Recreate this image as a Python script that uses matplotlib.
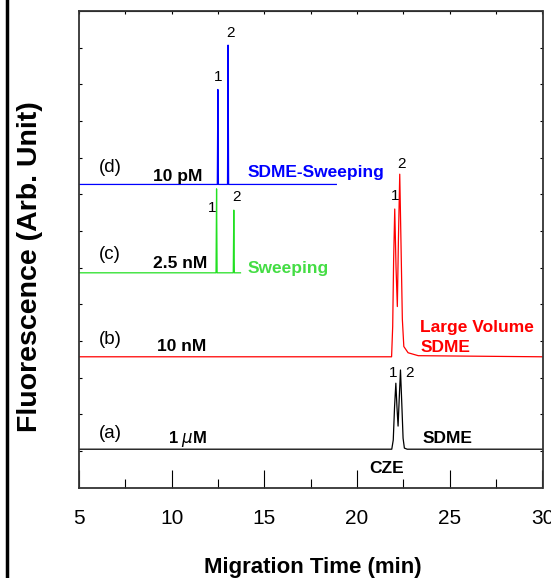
import numpy as np
import matplotlib
matplotlib.use("Agg")
import matplotlib.pyplot as plt
from matplotlib.lines import Line2D

plt.rcParams["font.family"] = ["Liberation Sans", "DejaVu Sans"]

# ── TRACE DATA ──────────────────────────────────────────────
# (a) CZE / SDME, 1 uM
t_a = [5.0, 21.87, 21.95, 22.02, 22.09, 22.15, 22.21, 22.27, 22.34, 22.41, 22.48, 22.55, 22.70, 30.0]
s_a = [1.05, 1.05, 1.30, 2.20, 2.85, 2.20, 1.68, 2.40, 3.21, 2.30, 1.35, 1.08, 1.05, 1.05]

# (b) Large volume SDME, 10 nM
t_b = [5.0, 21.86, 21.92, 21.97, 22.03, 22.10, 22.17, 22.23, 22.30, 22.37, 22.44, 22.52, 22.75, 23.30, 30.0]
s_b = [3.57, 3.57, 4.40, 6.20, 7.60, 6.00, 4.94, 6.80, 8.55, 6.60, 4.60, 3.85, 3.68, 3.60, 3.57]

# (c) Sweeping, 2.5 nM
t_c = [5.0, 12.39, 12.42, 12.45, 13.32, 13.35, 13.38, 13.71]
s_c = [5.86, 5.86, 8.15, 5.86, 5.86, 7.57, 5.86, 5.86]

# (d) SDME-Sweeping, 10 pM
t_d = [5.0, 12.46, 12.49, 12.52, 13.01, 13.04, 13.07, 18.88]
s_d = [8.27, 8.27, 10.86, 8.27, 8.27, 12.07, 8.27, 8.27]

# peak number labels: (x, y, text)
peak_labels = [
    (12.53, 11.21, "1"), (13.17, 12.39, "2"),
    (12.20, 7.63, "1"), (13.49, 7.92, "2"),
    (22.03, 7.95, "1"), (22.41, 8.82, "2"),
    (21.93, 3.13, "1"), (22.82, 3.13, "2"),
]

x_major = [5, 10, 15, 20, 25, 30]
x_minor = [7.5, 12.5, 17.5, 22.5, 27.5]
y_ticks = list(range(1, 13))

blue = "#0000ff"
red = "#ff0000"
green = "#22e022"

fig = plt.figure(figsize=(5.51, 5.78), dpi=100)
ax = fig.add_axes([79 / 551, 1 - 487.7 / 578, (542.5 - 79) / 551, (487.7 - 11) / 578])

ax.plot(t_a, s_a, color="black", lw=0.9)
ax.plot(t_b, s_b, color=red, lw=0.9)
ax.plot(t_c, s_c, color=green, lw=0.9)
ax.plot(t_d, s_d, color=blue, lw=0.9)

for x, y, txt in peak_labels:
    ax.text(x, y, txt, fontsize=11, ha="center", va="center")

# trace annotations
ax.text(6.69, 8.72, "(d)", fontsize=13.5, ha="center", va="center")
ax.text(10.32, 8.48, "10 pM", fontsize=12.5, fontweight="bold", ha="center", va="center")
ax.text(14.08, 8.59, "SDME-Sweeping", fontsize=12.5, fontweight="bold", color=blue, ha="left", va="center")

ax.text(6.67, 6.35, "(c)", fontsize=13.5, ha="center", va="center")
ax.text(10.48, 6.12, "2.5 nM", fontsize=12.5, fontweight="bold", ha="center", va="center")
ax.text(14.08, 5.98, "Sweeping", fontsize=12.5, fontweight="bold", color="#44dd44", ha="left", va="center")

ax.text(6.67, 4.03, "(b)", fontsize=13.5, ha="center", va="center")
ax.text(10.53, 3.85, "10 nM", fontsize=12.5, fontweight="bold", ha="center", va="center")
ax.text(23.41, 4.36, "Large Volume", fontsize=12.5, fontweight="bold", color=red, ha="left", va="center")
ax.text(23.41, 3.81, "SDME", fontsize=12.5, fontweight="bold", color=red, ha="left", va="center")

ax.text(6.67, 1.49, "(a)", fontsize=13.5, ha="center", va="center")
ax.text(10.86, 1.32, r"1 $\mu$M", fontsize=12, fontweight="bold", ha="center", va="center")
ax.text(23.54, 1.33, "SDME", fontsize=12.5, fontweight="bold", ha="left", va="center")
ax.text(21.6, 0.53, "CZE", fontsize=12.5, fontweight="bold", ha="center", va="center")

ax.set_xlim(5, 30)
ax.set_ylim(0, 13)

# bottom ticks: long, pointing in
ax.set_xticks(x_major)
ax.set_xticks(x_minor, minor=True)
ax.tick_params(axis="x", which="major", direction="in", length=13, width=0.8, pad=15, labelsize=15)
ax.tick_params(axis="x", which="minor", direction="in", length=6.5, width=0.8)

# y ticks on both sides, no labels
ax.set_yticks(y_ticks)
ax.tick_params(axis="y", which="both", direction="in", length=2.2, width=0.8,
               left=True, right=True, labelleft=False)

# tiny ticks along the top
top = ax.secondary_xaxis("top")
top.set_xticks(x_major + x_minor)
top.tick_params(direction="in", length=1.8, width=0.8, labeltop=False)

for sp in ax.spines.values():
    sp.set_color("#333333")
    sp.set_linewidth(1.3)

fig.text(313 / 551, 1 - 573 / 578, "Migration Time (min)", fontsize=16, fontweight="bold",
         ha="center", va="baseline")
fig.text(30 / 551, 1 - 267 / 578, "Fluorescence (Arb. Unit)", fontsize=20.5, fontweight="bold",
         rotation=90, ha="center", va="center")

# black frame edge on the left of the original figure
fig.add_artist(Line2D([6.5 / 551, 6.5 / 551], [0, 1], color="black", lw=2.5))

fig.savefig("out.png", dpi=100)
